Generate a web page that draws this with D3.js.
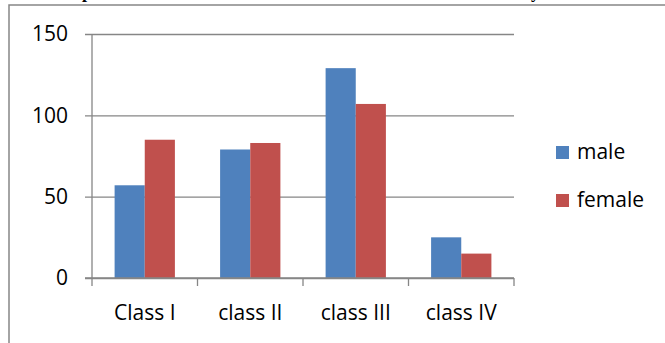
<!DOCTYPE html>
<html>
<head>
<meta charset="utf-8">
<script src="https://cdn.jsdelivr.net/npm/d3@7"></script>
<style>
  html, body { margin: 0; padding: 0; background: #fff; }
  svg { display: block; }
</style>
</head>
<body>
<div id="wrapper"></div>
<script>
const categories = ["Class I", "class II", "class III", "class IV"];
const seriesNames = ["male", "female"];
const maleValues = [57, 79, 129, 25];
const femaleValues = [85, 83, 107, 15];
const yTicks = [0, 50, 100, 150];

const colors = { male: "#4F81BD", female: "#C0504D" };

function drawChart() {
  //* dimensions
  const dimensions = {
    width: 665,
    height: 343,
    plot: { left: 92, right: 514, top: 34, bottom: 278 },
  };

  const wrapper = d3
    .select("#wrapper")
    .append("svg")
    .attr("width", dimensions.width)
    .attr("height", dimensions.height);

  // chart frame (runs past the right and bottom edge of the crop)
  wrapper
    .append("rect")
    .attr("x", 9)
    .attr("y", 5)
    .attr("width", 700)
    .attr("height", 400)
    .attr("fill", "none")
    .attr("stroke", "#868686")
    .attr("stroke-width", 1.5);

  // cropped caption above the frame, only descenders visible
  wrapper
    .append("text")
    .attr("x", 82)
    .attr("y", -2)
    .style("font-family", "Liberation Serif")
    .style("font-weight", "bold")
    .style("font-size", "18px")
    .text("p");
  wrapper
    .append("text")
    .attr("x", 531)
    .attr("y", -2)
    .style("font-family", "Liberation Serif")
    .style("font-weight", "bold")
    .style("font-size", "18px")
    .text("y");

  //* scales
  const xScale = d3
    .scaleBand()
    .domain(categories)
    .range([dimensions.plot.left, dimensions.plot.right])
    .padding(0);

  const seriesScale = d3
    .scaleBand()
    .domain(seriesNames)
    .range([0, xScale.bandwidth()])
    .paddingInner(0)
    .paddingOuter(0.75);

  const yScale = d3
    .scaleLinear()
    .domain([0, 150])
    .range([dimensions.plot.bottom, dimensions.plot.top]);

  const labelFont = (sel) =>
    sel
      .attr("fill", "#000")
      .style("font-family", "Open Sans")
      .style("font-size", "21px");

  //* gridlines + y axis
  const yAxisGenerator = d3
    .axisLeft(yScale)
    .tickValues(yTicks)
    .tickSize(7)
    .tickPadding(17);

  const yAxis = wrapper
    .append("g")
    .attr("transform", `translate(${dimensions.plot.left},0)`)
    .call(yAxisGenerator);
  yAxis.select(".domain").remove();
  yAxis
    .selectAll(".tick line")
    .attr("x1", -7)
    .attr("x2", dimensions.plot.right - dimensions.plot.left)
    .attr("stroke", "#868686")
    .attr("stroke-width", 1.3);
  yAxis.selectAll(".tick text").call(labelFont);

  wrapper
    .append("line")
    .attr("x1", dimensions.plot.left)
    .attr("x2", dimensions.plot.left)
    .attr("y1", dimensions.plot.top)
    .attr("y2", dimensions.plot.bottom)
    .attr("stroke", "#868686")
    .attr("stroke-width", 1.3);

  //* bars
  const data = categories.map((c, i) => ({
    category: c,
    values: [
      { key: "male", value: maleValues[i] },
      { key: "female", value: femaleValues[i] },
    ],
  }));

  const groups = wrapper
    .append("g")
    .selectAll("g")
    .data(data)
    .join("g")
    .attr("transform", (d) => `translate(${xScale(d.category)},0)`);

  groups
    .selectAll("rect")
    .data((d) => d.values)
    .join("rect")
    .attr("x", (d) => seriesScale(d.key))
    .attr("y", (d) => yScale(d.value))
    .attr("width", seriesScale.bandwidth())
    .attr("height", (d) => yScale(0) - yScale(d.value))
    .attr("fill", (d) => colors[d.key]);

  //* x axis
  const xAxis = wrapper
    .append("g")
    .attr("transform", `translate(0,${dimensions.plot.bottom})`)
    .call(d3.axisBottom(xScale).tickSize(0).tickPadding(27));
  xAxis.select(".domain").remove();
  xAxis.selectAll(".tick text").call(labelFont);

  const boundaries = categories.map((c) => xScale(c)).concat([dimensions.plot.right]);
  xAxis
    .selectAll(".cat-tick")
    .data(boundaries)
    .join("line")
    .attr("x1", (d) => d)
    .attr("x2", (d) => d)
    .attr("y1", 0)
    .attr("y2", 8)
    .attr("stroke", "#868686")
    .attr("stroke-width", 1.3);
  xAxis
    .append("line")
    .attr("x1", dimensions.plot.left - 7)
    .attr("x2", dimensions.plot.right)
    .attr("y1", 0)
    .attr("y2", 0)
    .attr("stroke", "#868686")
    .attr("stroke-width", 1.3);

  //* legend
  const legend = wrapper
    .append("g")
    .attr("transform", "translate(556,146)");
  const items = legend
    .selectAll("g")
    .data(seriesNames)
    .join("g")
    .attr("transform", (d, i) => `translate(0,${i * 48})`);
  items
    .append("rect")
    .attr("width", 13)
    .attr("height", 13)
    .attr("fill", (d) => colors[d]);
  items
    .append("text")
    .attr("x", 21)
    .attr("y", 13)
    .call(labelFont)
    .text((d) => d);
}

drawChart();
</script>
</body>
</html>
